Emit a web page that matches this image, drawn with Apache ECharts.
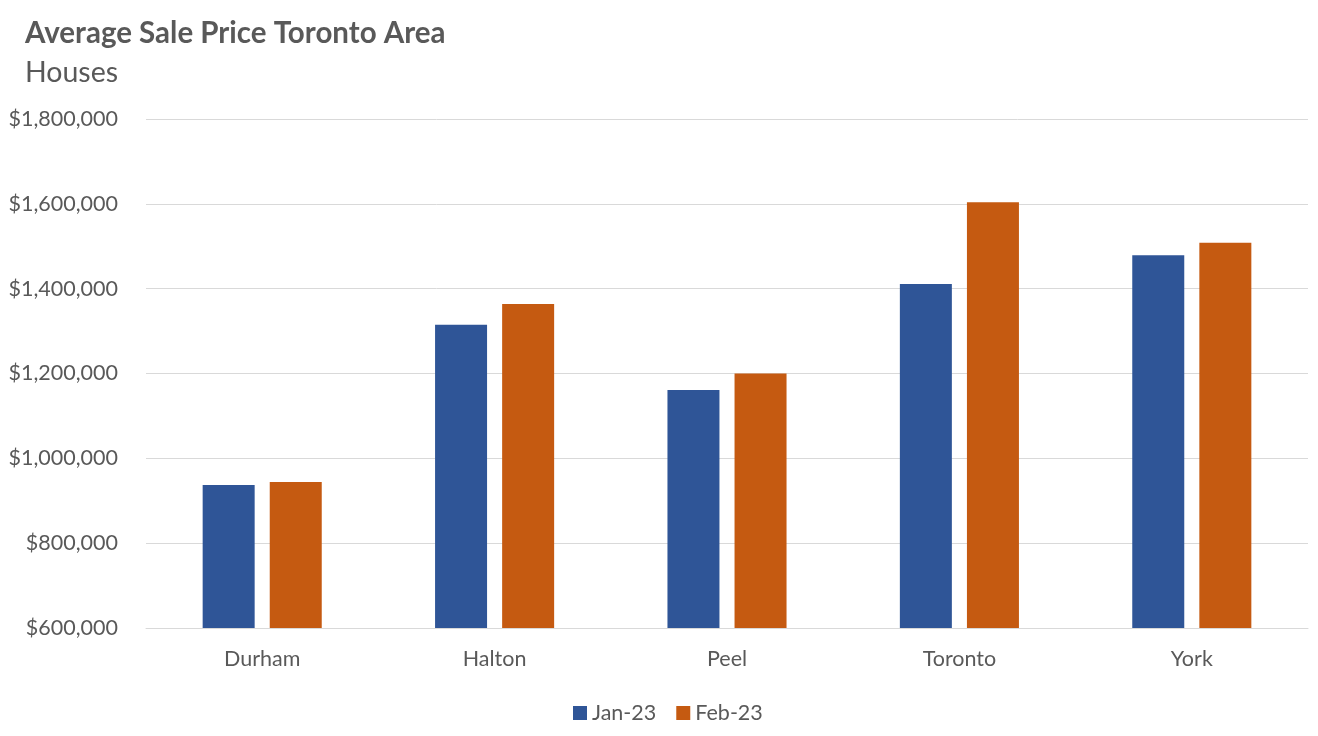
<!DOCTYPE html>
<html>
<head>
<meta charset="utf-8">
<script src="https://cdn.jsdelivr.net/npm/echarts@6/dist/echarts.min.js"></script>
<style>html,body{margin:0;padding:0;background:#fff}#c{width:1318px;height:736px}</style>
</head>
<body>
<div id="c"></div>
<script>
const categories = ['Durham', 'Halton', 'Peel', 'Toronto', 'York'];
const seriesNames = ['Jan-23', 'Feb-23'];
const jan23 = [937000, 1315000, 1161000, 1411000, 1479000];
const feb23 = [944000, 1364000, 1200000, 1604000, 1508000];
const yTicks = [600000, 800000, 1000000, 1200000, 1400000, 1600000, 1800000];

const FONT = 'Lato';
const chart = echarts.init(document.getElementById('c'));
chart.setOption({
  animation: false,
  backgroundColor: '#fff',
  title: [
    { text: 'Average Sale Price Toronto Area', left: 20, top: 13,
      textStyle: { fontFamily: FONT, fontSize: 29.5, fontWeight: 'bold', color: '#595959' } },
    { text: 'Houses', left: 20, top: 53,
      textStyle: { fontFamily: FONT, fontSize: 28.5, fontWeight: 'normal', color: '#595959' } }
  ],
  legend: {
    data: seriesNames, bottom: 7, left: 573, itemWidth: 14, itemHeight: 14, itemGap: 20,
    icon: 'rect', padding: [5, 0, 5, 0],
    textStyle: { fontFamily: FONT, fontSize: 21.5, color: '#595959' }
  },
  grid: { left: 146, right: 10, top: 119, bottom: 108, containLabel: false },
  xAxis: {
    type: 'category', data: categories,
    axisLine: { lineStyle: { color: '#d9d9d9', width: 1 } },
    axisTick: { show: false },
    axisLabel: { fontFamily: FONT, fontSize: 21.5, color: '#595959', margin: 20 }
  },
  yAxis: {
    type: 'value', min: yTicks[0], max: yTicks[yTicks.length - 1], interval: 200000,
    axisLine: { show: false }, axisTick: { show: false },
    splitLine: { lineStyle: { color: '#d9d9d9', width: 1 } },
    axisLabel: { fontFamily: FONT, fontSize: 21.5, color: '#595959', margin: 28,
      formatter: v => '$' + v.toLocaleString('en-US') }
  },
  series: [
    { name: seriesNames[0], type: 'bar', data: jan23, barWidth: 52, barGap: '29%',
      itemStyle: { color: '#2F5597' } },
    { name: seriesNames[1], type: 'bar', data: feb23, barWidth: 52,
      itemStyle: { color: '#C55A11' } }
  ]
});
</script>
</body>
</html>
